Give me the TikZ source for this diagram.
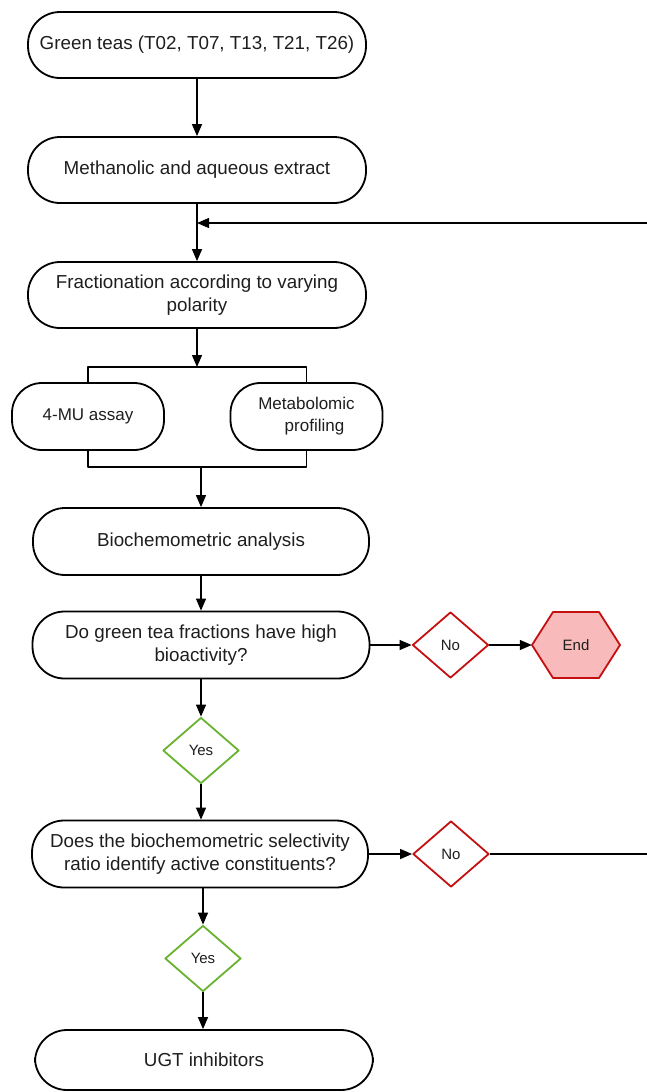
\documentclass[tikz,border=0pt]{standalone}
\usepackage{fontspec}
\setmainfont{Liberation Sans}
\usetikzlibrary{shapes.geometric,arrows.meta,positioning}
\definecolor{nored}{RGB}{196,16,16}
\definecolor{yesgreen}{RGB}{104,178,48}
\definecolor{endpink}{RGB}{248,186,186}
\definecolor{ink}{RGB}{30,30,30}
\begin{document}
\begin{tikzpicture}[x=1pt,y=-1pt,line join=round,>={Triangle[length=12pt,width=10pt]}]
		\def\boxw{338pt}
		\def\boxh{66pt}
		\tikzset{box/.style={draw=black,line width=1.8pt,rounded corners=32pt,minimum width=\boxw,minimum height=\boxh,inner sep=0pt,align=center,text=ink,font=\fontsize{18.8}{23}\selectfont},
			smallbox/.style={box,rounded corners=30pt,minimum width=152pt,minimum height=67pt,font=\fontsize{17}{22}\selectfont},
			choice/.style={diamond,line width=1.8pt,minimum width=76pt,minimum height=66pt,inner sep=0pt,text=ink,font=\fontsize{15}{18}\selectfont},
			nobox/.style={choice,draw=nored},
			yesbox/.style={choice,draw=yesgreen},
			link/.style={line width=1.3pt},
			arrow/.style={link,->}}
		\useasboundingbox (0,0) rectangle (647,1092);
		\node[box] (teas) at (197,45) {Green teas (T02, T07, T13, T21, T26)};
		\node[box] (extract) at (197,170) {Methanolic and aqueous extract};
		\node[box] (fraction) at (197,295) {Fractionation according to varying\\polarity};
		\node[smallbox] (assay) at (88,416.5) {4-MU assay};
		\node[smallbox] (profile) at (306.5,416.5) {Metabolomic\\\hspace*{16pt}profiling};
		\node[box,minimum width=336pt,minimum height=67pt] (analysis) at (201,541.5) {Biochemometric analysis};
		\node[box,minimum width=337pt,minimum height=67pt] (active) at (201,645) {Do green tea fractions have high\\bioactivity?};
		\node[nobox] (noa) at (450.5,645) {No};
		\filldraw[draw=nored,fill=endpink,line width=1.8pt] (532,645) -- (553,612) -- (599,612) -- (620,645) -- (599,678) -- (553,678) -- cycle;
		\node[minimum width=88pt,minimum height=66pt,text=ink,font=\fontsize{15}{18}\selectfont] (stop) at (576,645) {End};
		\node[yesbox] (yesa) at (201,750.5) {Yes};
		\node[box,minimum width=336pt,minimum height=67pt] (ratio) at (200,854) {Does the biochemometric selectivity\\ratio identify active constituents?};
		\node[nobox] (nob) at (451,854) {No};
		\node[yesbox] (yesb) at (203,958.5) {Yes};
		\node[box,minimum width=338pt,minimum height=60pt] (ugt) at (204,1060) {UGT inhibitors};
		\coordinate (loopin) at (197,223);
		\coordinate (btop) at (197,367);
		\coordinate (bbot) at (197,467);
		\draw[arrow] (teas) -- (extract);
		\draw[arrow] (extract) -- (fraction);
		\draw[arrow] (nob.east) -- ++(170,0) |- (loopin);
		\draw[arrow] (fraction.south) -- (btop);
		\draw[link] (assay.north) -- (assay.north |- btop) -- (profile.north |- btop) -- (profile.north);
		\draw[link] (assay.south) -- (assay.south |- bbot) -- (profile.south |- bbot) -- (profile.south);
		\draw[arrow] (analysis.north |- bbot) -- (analysis.north);
		\draw[arrow] (analysis) -- (active);
		\draw[arrow] (active.east) -- (noa.west);
		\draw[arrow] (noa.east) -- (stop.west);
		\draw[arrow] (active) -- (yesa);
		\draw[arrow] (yesa.south) -- (yesa.south |- ratio.north);
		\draw[arrow] (ratio.east) -- (nob.west);
		\draw[arrow] (yesb.north |- ratio.south) -- (yesb.north);
		\draw[arrow] (yesb.south) -- (yesb.south |- ugt.north);
\end{tikzpicture}
\end{document}
